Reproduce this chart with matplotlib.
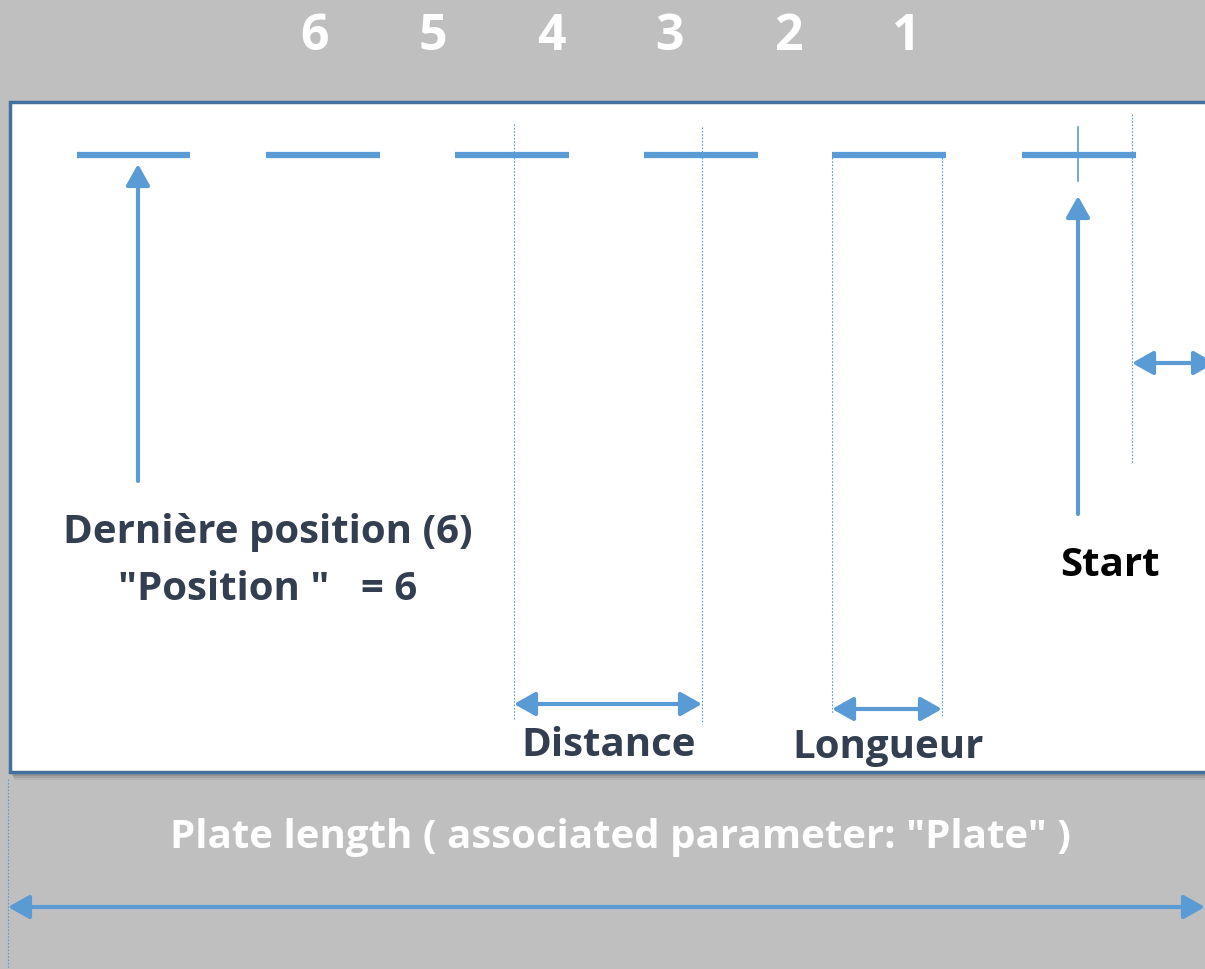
import matplotlib.pyplot as plt
from matplotlib.patches import Rectangle, FancyArrowPatch

# position labels along the top
pos_labels = ['6', '5', '4', '3', '2', '1']
pos_label_x = [315, 433, 551, 669, 788, 906]

# dash segments (start, end) along the plate
dash_start = [77, 266, 455, 644, 832, 1022]
dash_end = [190, 380, 569, 758, 946, 1136]

# dotted guide lines: x, y top, y bottom
guide_x = [514, 702, 832, 942, 1132]
guide_top = [125, 128, 155, 155, 115]
guide_bot = [720, 725, 715, 718, 465]

blue = '#5b9bd5'
dark = '#333f50'
grey = '#bfbfbf'

fig = plt.figure(figsize=(12.05, 9.7), dpi=100)
fig.patch.set_facecolor(grey)
ax = fig.add_axes([0, 0, 1, 1])
ax.set_xlim(0, 1205)
ax.set_ylim(970, 0)
ax.axis('off')
ax.set_facecolor(grey)

# plate (white box) with soft shadow
for i, a in enumerate([0.12, 0.18, 0.25, 0.35]):
    off = 8 - 2 * i
    ax.add_patch(Rectangle((10 + off / 2, 103 + off), 1200, 670, facecolor='#606060',
                           edgecolor='none', alpha=a, zorder=1))
ax.add_patch(Rectangle((10, 103), 1200, 670, facecolor='white', edgecolor='#41719c', lw=2.5, zorder=2))

fnt = ['Open Sans', 'DejaVu Sans']

for lab, x in zip(pos_labels, pos_label_x):
    ax.text(x, 37, lab, color='white', fontsize=36, fontweight='bold', family=fnt,
            ha='center', va='center')

for s, e in zip(dash_start, dash_end):
    ax.plot([s, e], [156, 156], color=blue, lw=4.5, solid_capstyle='butt', zorder=4)

for x, t, b in zip(guide_x, guide_top, guide_bot):
    ax.plot([x, x], [t, b], color=blue, lw=0.8, ls=(0, (1.5, 1.5)), zorder=3)
# left dotted line outside the plate
ax.plot([8, 8], [780, 970], color=blue, lw=0.8, ls=(0, (1.5, 1.5)), zorder=3)

# start cross mark
ax.plot([1078, 1078], [128, 182], color=blue, lw=1.2, zorder=5)


def arrow(x0, y0, x1, y1, style='-|>'):
    ax.add_patch(FancyArrowPatch((x0, y0), (x1, y1), arrowstyle=style + ',head_length=8,head_width=4.5',
                                 color=blue, lw=3, mutation_scale=1.6, shrinkA=0, shrinkB=0, zorder=6))


arrow(138, 482, 138, 165)
arrow(1078, 515, 1078, 197)
arrow(1132, 364, 1215, 364, '<|-|>')
arrow(514, 705, 702, 705, '<|-|>')
arrow(832, 710, 942, 710, '<|-|>')
arrow(8, 908, 1205, 908, '<|-|>')

fs = 29
ax.text(268, 533, 'Dernière position (6)', color=dark, fontsize=fs, fontweight='bold',
        family=fnt, ha='center', va='center')
ax.text(268, 590, '"Position "   = 6', color=dark, fontsize=fs, fontweight='bold',
        family=fnt, ha='center', va='center')
ax.text(1110, 566, 'Start', color='black', fontsize=fs, fontweight='bold',
        family=fnt, ha='center', va='center')
ax.text(609, 746, 'Distance', color=dark, fontsize=fs, fontweight='bold',
        family=fnt, ha='center', va='center')
ax.text(888, 748, 'Longueur', color=dark, fontsize=fs, fontweight='bold',
        family=fnt, ha='center', va='center')
ax.text(620, 838, 'Plate length ( associated parameter: "Plate" )', color='white', fontsize=fs,
        fontweight='bold', family=fnt, ha='center', va='center')

fig.savefig('out.png', dpi=100, facecolor=grey)
